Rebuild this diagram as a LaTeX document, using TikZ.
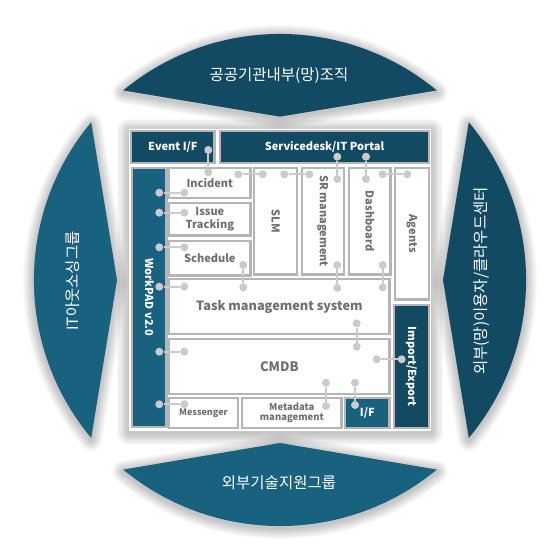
\documentclass[tikz,border=0pt]{standalone}
\usepackage{fontspec}
\setmainfont{Noto Sans CJK KR}
\definecolor{dblue}{HTML}{134A63}
\definecolor{lblue}{HTML}{18617F}
\definecolor{bgray}{HTML}{B5B5B5}
\definecolor{dgray}{HTML}{CBCBCB}
\definecolor{tgray}{HTML}{707070}
\tikzset{
  box/.style={draw=bgray, line width=2.2pt, fill=white, inner sep=0pt, align=center, text=tgray, font=\bfseries\fontsize{11}{13}\selectfont},
  dbox/.style={box, fill=dblue, text=white},
  lbox/.style={box, fill=lblue, text=white},
  dotnode/.style={circle, fill=dgray, inner sep=0pt, minimum size=8pt},
  link/.style={draw=dgray, line width=1.8pt},
  outertext/.style={text=white, font=\fontsize{15.5}{17}\selectfont, inner sep=0pt},
  glow/.style={draw=black, draw opacity=0.022, line join=round}
}
\def\ptop{(123.2,90.4) arc[start angle=230.4,end angle=309.6,radius=246] -- (280,116.7) -- cycle}
\def\pbot{(123.2,469.6) arc[start angle=129.6,end angle=50.4,radius=246] -- (280,443) -- cycle}
\def\pleft{(91.2,122.3) arc[start angle=219.9,end angle=140.1,radius=246] -- (117,280) -- cycle}
\def\pright{(468.8,122.3) arc[start angle=-39.9,end angle=39.9,radius=246] -- (443,280) -- cycle}
\begin{document}
\begin{tikzpicture}[x=1pt,y=-1pt]
\useasboundingbox (0,0) rectangle (560,560);
\fill[white] (0,0) rectangle (560,560);
% shadows
\begin{scope}[shift={(0,2)}]
\foreach \w in {1,...,10}{
  \draw[glow, line width=\w*2.2pt] \ptop;
  \draw[glow, line width=\w*2.2pt] \pbot;
  \draw[glow, line width=\w*2.2pt] \pleft;
  \draw[glow, line width=\w*2.2pt] \pright;
  \draw[glow, line width=\w*2.4pt] (129,129) rectangle (431,431);
}
\end{scope}
% outer shapes
\fill[dblue] \ptop;
\fill[lblue] \pbot;
\fill[lblue] \pleft;
\fill[dblue] \pright;
\node[outertext] (ttop) at (279,76) {공공기관내부(망)조직};
\node[outertext] (tbot) at (279,483) {외부기술지원그룹};
\node[outertext, rotate=90] (tleft) at (73,281) {IT아웃소싱그룹};
\node[outertext, rotate=90] (tright) at (481.5,281) {외부(망)이용자/클라우드센터};
% central block
\fill[white] (129,129) rectangle (431,431);
\node[dbox, minimum width=83.3pt, minimum height=31.6pt] (eventif) at (172.85,147) {Event I/F};
\node[dbox, minimum width=208.6pt, minimum height=31.6pt] (service) at (324.5,147) {Servicedesk/IT Portal};
\node[lbox, rotate=-90, minimum width=258.9pt, minimum height=34.3pt] (workpad) at (149.35,297.35) {WorkPAD v2.0};
\node[box, minimum width=81.3pt, minimum height=29.9pt] (incident) at (209.85,182.85) {Incident};
\node[box, minimum width=81.3pt, minimum height=32.3pt, font=\bfseries\fontsize{11}{12.5}\selectfont] (issue) at (209.85,219.35) {Issue\\Tracking};
\node[box, minimum width=81.3pt, minimum height=34.3pt] (schedule) at (209.85,258.35) {Schedule};
\node[box, rotate=-90, minimum width=106.6pt, minimum height=42.9pt] (slm) at (275.65,221.2) {SLM};
\node[box, rotate=-90, minimum width=106.6pt, minimum height=41.9pt] (sr) at (322.85,221.2) {SR management};
\node[box, rotate=-90, minimum width=106.6pt, minimum height=41.3pt] (dash) at (369.85,221.2) {Dashboard};
\node[box, rotate=-90, minimum width=131.6pt, minimum height=33.6pt] (agents) at (412,233.7) {Agents};
\node[box, minimum width=220.3pt, minimum height=54.6pt, font=\bfseries\fontsize{12.7}{15}\selectfont] (task) at (279.35,306.5) {Task management system};
\node[box, minimum width=220.3pt, minimum height=54.6pt, font=\bfseries\fontsize{13}{15}\selectfont] (cmdb) at (279.35,366.5) {CMDB};
\node[box, minimum width=68.6pt, minimum height=29.9pt, font=\bfseries\fontsize{9}{10}\selectfont] (messenger) at (203.5,412.85) {Messenger};
\node[box, minimum width=99.3pt, minimum height=29.9pt, font=\bfseries\fontsize{9.5}{10.5}\selectfont] (metadata) at (291.85,412.85) {Metadata\\management};
\node[lbox, minimum width=44.3pt, minimum height=29.9pt] (iff) at (367.35,412.85) {I/F};
\node[dbox, rotate=-90, minimum width=122.6pt, minimum height=34.6pt] (impexp) at (411.5,366.5) {Import/Export};
% dots
\node[dotnode] (d1a) at (208.3,150) {};
\node[dotnode] (d1b) at (208.3,172.3) {};
\node[dotnode] (d2a) at (159.3,192.7) {};
\node[dotnode] (d2b) at (184.3,192.7) {};
\node[dotnode] (d3a) at (159.3,212.7) {};
\node[dotnode] (d3b) at (184.3,212.7) {};
\node[dotnode] (d4a) at (159.3,247.3) {};
\node[dotnode] (d4b) at (184.3,247.3) {};
\node[dotnode] (d5a) at (243.3,265) {};
\node[dotnode] (d5b) at (243.3,287.3) {};
\node[dotnode] (d6a) at (159.3,286.7) {};
\node[dotnode] (d6b) at (184.3,286.7) {};
\node[dotnode] (d7a) at (238.3,174.3) {};
\node[dotnode] (d7b) at (262.7,174.3) {};
\node[dotnode] (d8a) at (284.3,174.3) {};
\node[dotnode] (d8b) at (309.3,174.3) {};
\node[dotnode] (d9a) at (337.3,156.7) {};
\node[dotnode] (d9b) at (337.3,179) {};
\node[dotnode] (d10a) at (366,156.7) {};
\node[dotnode] (d10b) at (366,179) {};
\node[dotnode] (d11a) at (382.7,174.3) {};
\node[dotnode] (d11b) at (407.3,174.3) {};
\node[dotnode] (d12a) at (337.3,265) {};
\node[dotnode] (d12b) at (337.3,288) {};
\node[dotnode] (d13a) at (382.7,265) {};
\node[dotnode] (d13b) at (382.7,287.3) {};
\node[dotnode] (d14a) at (356.7,323.3) {};
\node[dotnode] (d14b) at (356.7,346.7) {};
\node[dotnode] (d15a) at (376.7,359.3) {};
\node[dotnode] (d15b) at (401.7,359.3) {};
\node[dotnode] (d16a) at (326,382.7) {};
\node[dotnode] (d16b) at (326,406) {};
\node[dotnode] (d17a) at (355,382.7) {};
\node[dotnode] (d17b) at (355,405) {};
\node[dotnode] (d18a) at (159.3,351.7) {};
\node[dotnode] (d18b) at (184.3,351.7) {};
\node[dotnode] (d19a) at (159.3,404.3) {};
\node[dotnode] (d19b) at (184.3,404.3) {};
\foreach \i in {1,...,19}{
  \draw[link] (d\i a) -- (d\i b);
}
\end{tikzpicture}
\end{document}
